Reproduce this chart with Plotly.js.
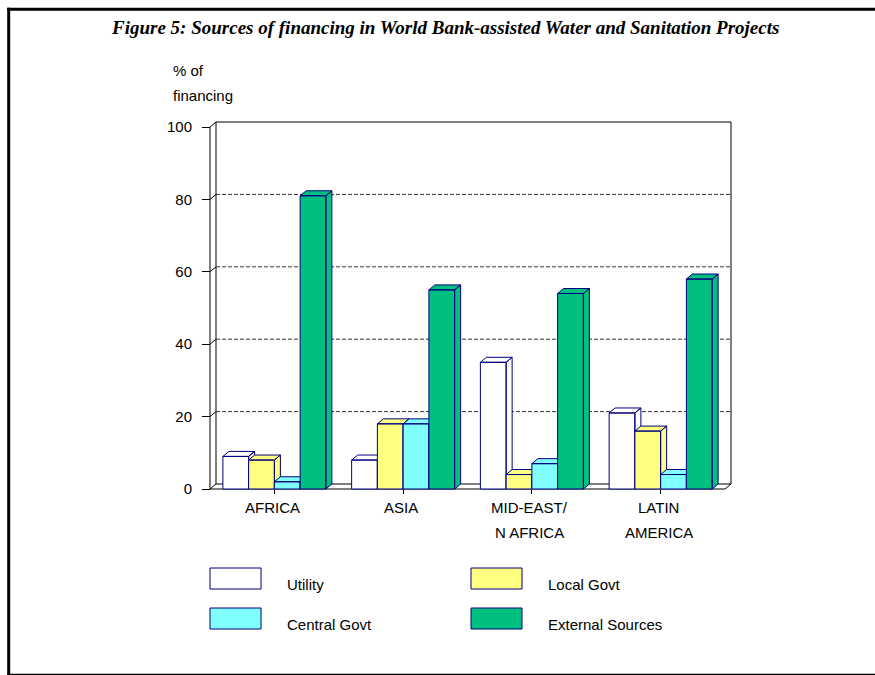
<!DOCTYPE html>
<html>
<head>
<meta charset="utf-8">
<script src="https://cdn.plot.ly/plotly-3.0.1.min.js"></script>
<style>
  html, body { margin: 0; padding: 0; background: #ffffff; }
  #chart { width: 875px; height: 675px; }
</style>
</head>
<body>
<div id="chart"></div>
<script>
// ---- data -------------------------------------------------------------
const categories = ['AFRICA', 'ASIA', 'MID-EAST/<br>N AFRICA', 'LATIN<br>AMERICA'];
const seriesNames = ['Utility', 'Local Govt', 'Central Govt', 'External Sources'];
const utility     = [9, 8, 35, 21];
const localGovt   = [8, 18, 4, 16];
const centralGovt = [2, 18, 7, 4];
const external    = [81, 55, 54, 58];
const yTicks = [0, 20, 40, 60, 80, 100];

// ---- styling ----------------------------------------------------------
const seriesValues = [utility, localGovt, centralGovt, external];
const seriesColors = ['#ffffff', '#ffff80', '#80ffff', '#00c080'];
const edgeColor = '#000080';
const font = 'Arial, "Liberation Sans", sans-serif';

// page geometry (pixels)
const W = 875, H = 675;
const FRONT_LEFT = 210, FRONT_RIGHT = 725, FRONT_BOTTOM = 489, FRONT_TOP = 127;
const DX = 6, DY = 5;      // depth offset of the 3-D walls and bars
const PAD = 3;             // keeps edge lines inside the clip area
const nCat = categories.length;
const xPx = (FRONT_RIGHT - FRONT_LEFT) / nCat;      // px per category
const yPx = (FRONT_BOTTOM - FRONT_TOP) / 100;       // px per percent
const dxu = DX / xPx, dyu = DY / yPx;

const mL = FRONT_LEFT - PAD;
const mR = W - (FRONT_RIGHT + DX + PAD);
const mT = FRONT_TOP - DY - PAD;
const mB = H - (FRONT_BOTTOM + PAD);
const plotW = W - mL - mR, plotH = H - mT - mB;
const xMin = -0.5, xMax = nCat - 0.5;
const px = v => (v - mL) / plotW;             // page px -> paper x
const py = v => (H - mB - v) / plotH;         // page px -> paper y

// ---- 3-D bars as filled polygons (front, top and side faces) ---------
const groupW = 0.8, barW = groupW / seriesValues.length;
const traces = seriesValues.map((vals, s) => {
  const xs = [], ys = [];
  const add = pts => { pts.forEach(p => { xs.push(p[0]); ys.push(p[1]); }); xs.push(null); ys.push(null); };
  vals.forEach((v, c) => {
    const x0 = c - groupW / 2 + s * barW, x1 = x0 + barW;
    add([[x1, 0], [x1 + dxu, dyu], [x1 + dxu, v + dyu], [x1, v], [x1, 0]]);           // side
    add([[x0, v], [x1, v], [x1 + dxu, v + dyu], [x0 + dxu, v + dyu], [x0, v]]);       // top
    add([[x0, 0], [x1, 0], [x1, v], [x0, v], [x0, 0]]);                               // front
  });
  return {
    type: 'scatter', mode: 'lines', x: xs, y: ys, name: seriesNames[s],
    fill: 'toself', fillcolor: seriesColors[s],
    line: { color: edgeColor, width: 1 }, hoverinfo: 'skip', showlegend: false
  };
});

// ---- walls, floor and gridlines --------------------------------------
const shapes = [];
const seg = (x0, y0, x1, y1, extra) => shapes.push(Object.assign({
  type: 'line', xref: 'x', yref: 'y', x0, y0, x1, y1, layer: 'below',
  line: { color: '#000000', width: 1 }
}, extra || {}));

seg(xMin, 0, xMin, 100);                                   // left wall, front edge
seg(xMin + dxu, dyu, xMin + dxu, 100 + dyu);               // left wall, back edge
yTicks.forEach(v => seg(xMin, v, xMin + dxu, v + dyu));    // left wall tick slants
seg(xMin + dxu, 100 + dyu, xMax + dxu, 100 + dyu);         // back wall top
seg(xMax + dxu, dyu, xMax + dxu, 100 + dyu);               // back wall right
seg(xMin + dxu, dyu, xMax + dxu, dyu);                     // floor back edge
seg(xMin, 0, xMax, 0);                                     // floor front edge
seg(xMax, 0, xMax + dxu, dyu);                             // floor right edge
yTicks.filter(v => v > 0 && v < 100).forEach(v =>
  seg(xMin + dxu, v + dyu, xMax + dxu, v + dyu, { line: { color: '#333333', width: 1, dash: '4px,2px' } }));

// outer frame
const frame = (x0, y0, x1, y1, w) => shapes.push({
  type: 'line', xref: 'paper', yref: 'paper',
  x0: px(x0), y0: py(y0), x1: px(x1), y1: py(y1), line: { color: '#000000', width: w }
});
frame(8.7, 7.8, 8.7, 690, 3);
frame(7.2, 9.3, 890, 9.3, 3);
frame(7.2, 674.8, 890, 674.8, 2);

// legend swatches and labels
const annotations = [];
const legendPos = [[210, 568], [471, 568], [210, 608], [471, 608]];
seriesNames.forEach((name, s) => {
  const [lx, ly] = legendPos[s];
  shapes.push({
    type: 'rect', xref: 'paper', yref: 'paper',
    x0: px(lx), x1: px(lx + 51), y0: py(ly), y1: py(ly + 21),
    fillcolor: seriesColors[s], line: { color: edgeColor, width: 1 }
  });
  annotations.push({
    xref: 'paper', yref: 'paper', x: px(lx + 75), y: py(ly + 16),
    xanchor: 'left', yanchor: 'middle', showarrow: false, text: name,
    font: { family: font, size: 15, color: '#000000' }
  });
});

// category labels (one annotation per line)
categories.forEach((cat, c) => {
  cat.split('<br>').forEach((line, i) => {
    annotations.push({
      xref: 'x', yref: 'paper', x: c, y: py(507 + i * 25), xshift: -2,
      xanchor: 'center', yanchor: 'middle', showarrow: false, text: line,
      font: { family: font, size: 15, color: '#000000' }
    });
  });
});

// axis caption and title
[['% of', 71], ['financing', 96]].forEach(([t, y]) => annotations.push({
  xref: 'paper', yref: 'paper', x: px(171), y: py(y), xanchor: 'left', yanchor: 'middle',
  showarrow: false, text: t, font: { family: font, size: 15, color: '#000000' }
}));
annotations.push({
  xref: 'paper', yref: 'paper', x: px(445), y: py(27), xanchor: 'center', yanchor: 'middle',
  showarrow: false,
  text: 'Figure 5: Sources of financing in World Bank-assisted Water and Sanitation Projects',
  font: { family: '"Times New Roman", "Liberation Serif", serif', size: 19, color: '#000000',
          weight: 'bold', style: 'italic' }
});

const layout = {
  width: W, height: H,
  margin: { l: mL, r: mR, t: mT, b: mB, pad: 0 },
  paper_bgcolor: '#ffffff', plot_bgcolor: '#ffffff',
  showlegend: false,
  xaxis: {
    range: [xMin - PAD / xPx, xMax + (DX + PAD) / xPx],
    anchor: 'free', position: PAD / plotH,
    tickvals: categories.map((_, i) => i), showticklabels: false,
    ticks: 'outside', ticklen: 4, tickcolor: '#000000', tickwidth: 1,
    showgrid: false, zeroline: false, showline: false, fixedrange: true
  },
  yaxis: {
    range: [-PAD / yPx, 100 + (DY + PAD) / yPx],
    anchor: 'free', position: PAD / plotW,
    tickvals: yTicks, ticktext: yTicks.map(String),
    ticks: 'outside', ticklen: 8, tickcolor: '#000000', tickwidth: 1,
    ticklabelstandoff: 7,
    tickfont: { family: font, size: 15, color: '#000000' },
    showgrid: false, zeroline: false, showline: false, fixedrange: true
  },
  shapes, annotations
};

Plotly.newPlot('chart', traces, layout, { staticPlot: true, displayModeBar: false });
</script>
</body>
</html>
